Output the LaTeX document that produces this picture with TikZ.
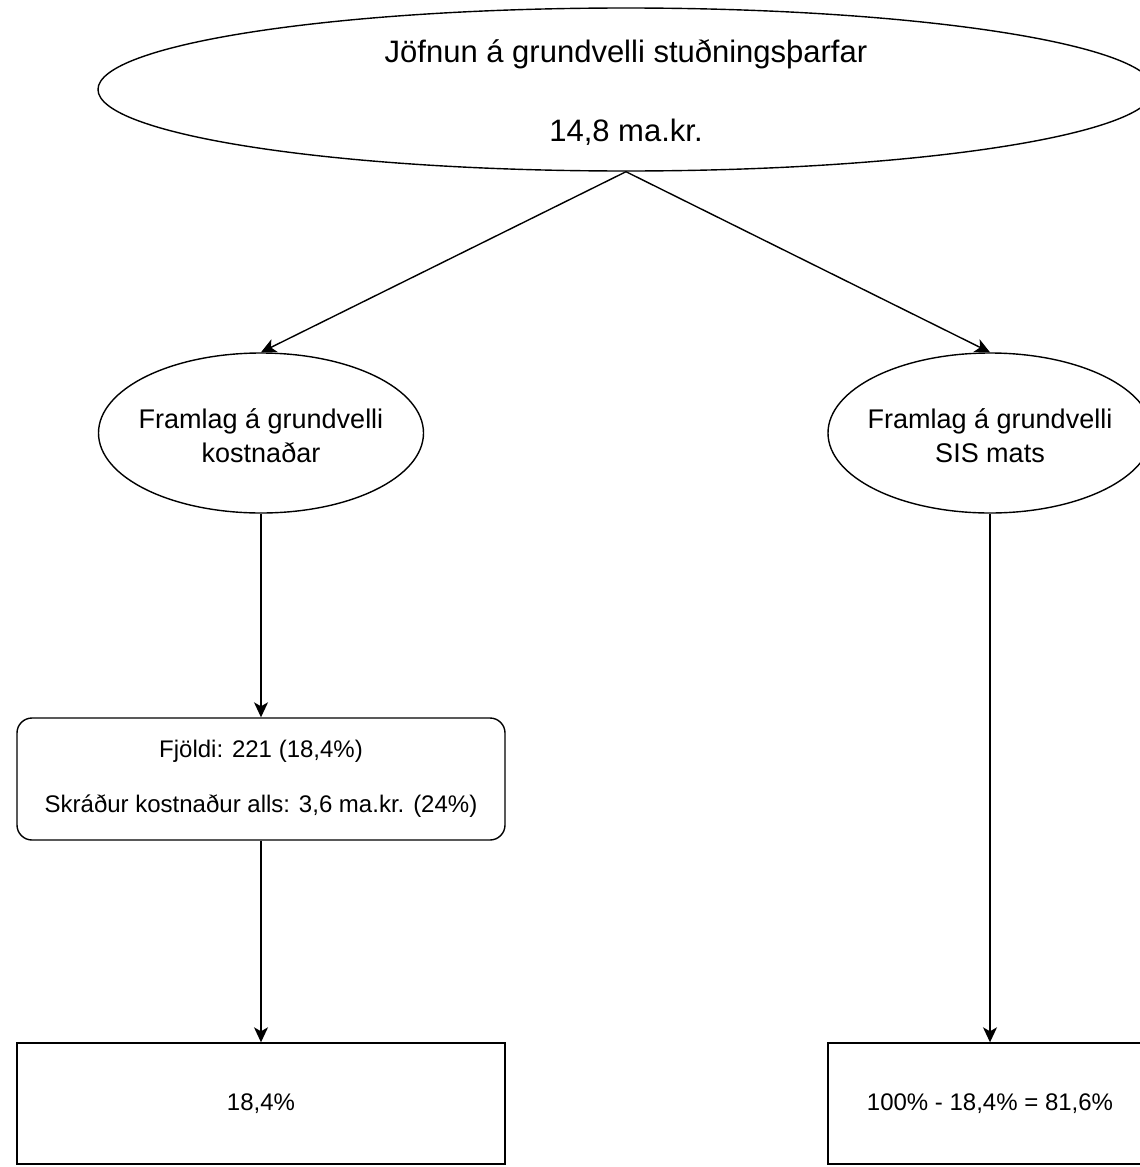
\documentclass[tikz,border=0pt]{standalone}
\usepackage{fontspec}
\setmainfont{Liberation Sans}
\usetikzlibrary{shapes.geometric,arrows.meta}
\begin{document}
\begin{tikzpicture}[x=1pt,y=-1pt,
  conn/.style={draw=black, line width=1.4pt, -{Stealth[length=15pt,width=14pt,inset=4pt]}},
  oval/.style={ellipse, draw=black, line width=1.4pt, inner xsep=-30pt, inner ysep=0pt, align=center},
  flat/.style={rectangle, draw=black, line width=1.4pt, inner sep=0pt, align=center},
]
\useasboundingbox (0,0) rectangle (1140,1167);
\clip (0,0) rectangle (1140,1167);
\node[oval, minimum width=1056pt, minimum height=163pt, font=\fontsize{31}{79}\selectfont] (top) at (626,89.5) {\rule{0pt}{28pt}Jöfnun á grundvelli stuðningsþarfar\\14,8 ma.kr.};
\node[oval, minimum width=325pt, minimum height=160pt, font=\fontsize{27}{34}\selectfont] (kost) at (261,433) {\rule{0pt}{25pt}Framlag á grundvelli\\kostnaðar};
\node[oval, minimum width=324pt, minimum height=160pt, font=\fontsize{27}{34}\selectfont] (sis) at (990,433) {\rule{0pt}{25pt}Framlag á grundvelli\\SIS mats};
\node[flat, rounded corners=15pt, minimum width=488pt, minimum height=122pt, font=\fontsize{24}{55}\selectfont] (fjoldi) at (261,779) {Fjöldi: 221 (18,4\%)\\Skráður kostnaður alls: 3,6 ma.kr. (24\%)};
\node[flat, minimum width=488pt, minimum height=121pt, font=\fontsize{24}{29}\selectfont] (boxl) at (261,1103.5) {18,4\%};
\node[flat, minimum width=324pt, minimum height=121pt, font=\fontsize{24}{29}\selectfont] (boxr) at (990,1103.5) {100\% - 18,4\% = 81,6\%};
\draw[conn] (top.south) -- (kost.north);
\draw[conn] (top.south) -- (sis.north);
\draw[conn] (kost.south) -- (fjoldi.north);
\draw[conn] (fjoldi.south) -- (boxl.north);
\draw[conn] (sis.south) -- (boxr.north);
\end{tikzpicture}
\end{document}
